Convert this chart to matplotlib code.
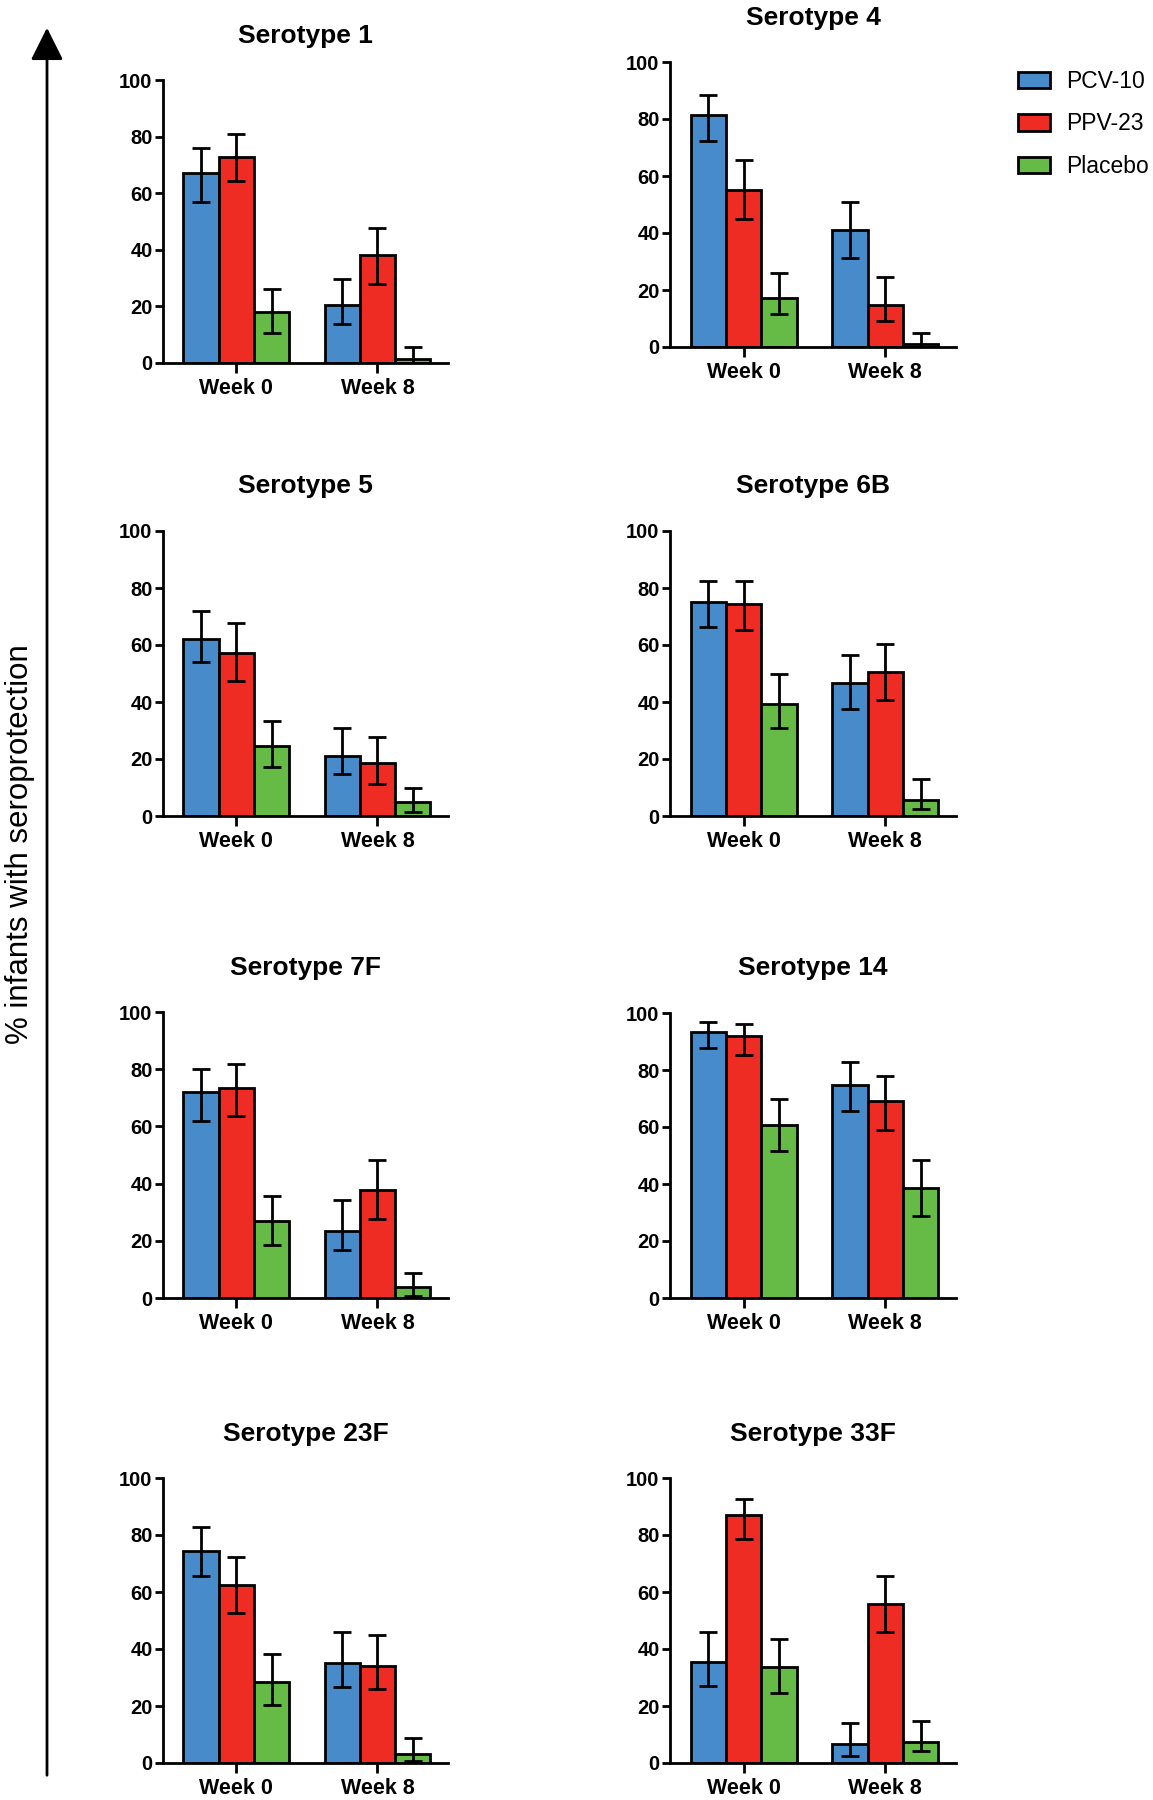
import matplotlib
matplotlib.use("Agg")
import matplotlib.pyplot as plt
from matplotlib.patches import Patch, FancyArrowPatch
import numpy as np

plt.rcParams['font.family'] = ['Liberation Sans', 'DejaVu Sans']

# ---------------- data ----------------
serotypes = ["Serotype 1", "Serotype 4", "Serotype 5", "Serotype 6B",
             "Serotype 7F", "Serotype 14", "Serotype 23F", "Serotype 33F"]
timepoints = ["Week 0", "Week 8"]
groups = ["PCV-10", "PPV-23", "Placebo"]

# values per serotype: [Week 0, Week 8]
pcv10_val = [[67.0, 20.6], [81.3, 40.9], [62.1, 21.2], [75.2, 46.5],
             [71.9, 23.6], [93.5, 74.7], [74.5, 35.0], [35.4, 6.7]]
pcv10_lo = [[57.0, 13.9], [72.2, 31.2], [53.9, 14.6], [66.2, 37.5],
            [62.0, 16.9], [87.8, 65.6], [65.6, 26.8], [26.9, 2.6]]
pcv10_hi = [[76.1, 29.7], [88.4, 50.9], [71.9, 31.0], [82.6, 56.5],
            [80.0, 34.3], [96.7, 82.9], [82.7, 45.9], [45.8, 13.9]]

ppv23_val = [[72.8, 38.0], [55.0, 14.9], [57.3, 18.7], [74.4, 50.6],
             [73.5, 37.6], [92.0, 69.1], [62.3, 34.2], [86.9, 55.8]]
ppv23_lo = [[64.4, 27.9], [45.0, 9.0], [47.4, 11.2], [65.3, 40.8],
            [63.7, 27.7], [85.3, 59.0], [52.5, 26.1], [78.7, 46.0]]
ppv23_hi = [[80.9, 47.8], [65.5, 24.6], [67.8, 27.7], [82.6, 60.5],
            [81.7, 48.1], [96.0, 77.8], [72.2, 44.8], [92.6, 65.5]]

placebo_val = [[18.0, 1.5], [17.3, 0.9], [24.6, 4.8], [39.2, 5.6],
               [26.8, 3.9], [60.7, 38.5], [28.5, 3.2], [33.7, 7.5]]
placebo_lo = [[10.7, 0.0], [11.5, 0.0], [17.1, 1.5], [31.0, 2.3],
              [18.7, 0.7], [51.6, 28.6], [20.4, 0.8], [24.6, 4.1]]
placebo_hi = [[26.3, 5.7], [26.1, 4.9], [33.5, 9.7], [49.8, 12.9],
              [35.8, 8.9], [69.8, 48.3], [38.3, 8.9], [43.5, 14.7]]

yticks = [0, 20, 40, 60, 80, 100]

colors = ["#488BCA", "#EE2C24", "#65BB46"]

# ---------------- layout (pixels) ----------------
W, H = 1153, 1800
fig = plt.figure(figsize=(W / 100, H / 100), dpi=100)

# (left x, right x, y of 100, y of 0)
panel_px = [
    (163, 448, 80, 363), (670, 956, 62, 347),
    (163, 448, 531, 816), (670, 956, 531, 816),
    (163, 448, 1012, 1298), (670, 956, 1013, 1298),
    (163, 448, 1478, 1763), (670, 956, 1478, 1763),
]

series = [(pcv10_val, pcv10_lo, pcv10_hi),
          (ppv23_val, ppv23_lo, ppv23_hi),
          (placebo_val, placebo_lo, placebo_hi)]

bw = 0.25
x = np.arange(len(timepoints))
for i, name in enumerate(serotypes):
    x0, x1, y100, y0 = panel_px[i]
    ax = fig.add_axes([x0 / W, 1 - y0 / H, (x1 - x0) / W, (y0 - y100) / H])
    for g, (val, lo, hi) in enumerate(series):
        v = np.array(val[i])
        l = np.array(lo[i])
        h = np.array(hi[i])
        xp = x + (g - 1) * bw
        ax.bar(xp, v, width=bw, color=colors[g], edgecolor="black",
               linewidth=2, zorder=2)
        ax.errorbar(xp, v, yerr=[v - l, h - v], fmt="none", ecolor="black",
                    elinewidth=2, capsize=6.5, capthick=2, zorder=3)
    ax.set_xlim(-0.52, 1.5)
    ax.set_ylim(0, 100)
    ax.set_yticks(yticks)
    ax.set_xticks(x)
    ax.set_xticklabels(timepoints, fontsize=15.5, fontweight="bold")
    ax.set_yticklabels([str(t) for t in yticks], fontsize=14.5, fontweight="bold")
    for s in ["top", "right"]:
        ax.spines[s].set_visible(False)
    for s in ["left", "bottom"]:
        ax.spines[s].set_linewidth(2)
    ax.tick_params(axis="y", length=6, width=2, pad=1.5)
    ax.tick_params(axis="x", length=7.5, width=2, pad=3)
    ax.set_title(name, fontsize=19, fontweight="bold", pad=27)

# legend
handles = [Patch(facecolor=c, edgecolor="black", linewidth=2) for c in colors]
fig.legend(handles, groups, loc="upper left", bbox_to_anchor=(1018 / W, 1 - 70 / H),
           frameon=False, fontsize=16.5, handlelength=1.4, handleheight=0.75,
           handletextpad=0.7, labelspacing=0.85, borderaxespad=0, borderpad=0)

# y label and arrow
fig.text(20 / W, 1 - 844 / H, "% infants with seroprotection", rotation=90,
         fontsize=22.5, ha="center", va="center")
arrow = FancyArrowPatch((47 / W, 1 - 1778 / H), (47 / W, 1 - 25 / H),
                        transform=fig.transFigure,
                        arrowstyle="-|>,head_length=1.0,head_width=0.5",
                        mutation_scale=20, linewidth=2, color="black")
fig.add_artist(arrow)

fig.savefig("out.png", dpi=100)
